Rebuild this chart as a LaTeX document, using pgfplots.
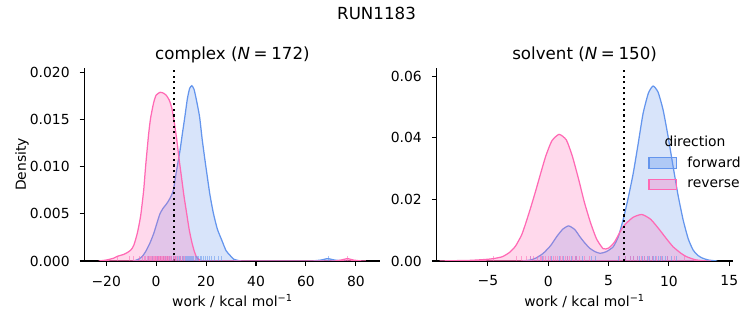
\documentclass[border=0pt]{standalone}
\usepackage{pgfplots}
\usepackage{pgfplotstable}
\pgfplotsset{compat=1.18}
\usepackage{fontspec}
\setmainfont{DejaVu Sans}
\definecolor{fwd}{HTML}{6495ED}
\definecolor{rev}{HTML}{FF69B4}

% ---------- KDE curves ----------
\pgfplotstableread{
x y
-23 0
-20 0.0001
-17 0.0003
-15.5 0.0005
-13 0.0007
-11.5 0.0009
-10 0.0012
-8.9 0.0017
-7.5 0.0030
-6.2 0.0048
-5 0.0075
-4.2 0.0101
-3 0.0135
-2.2 0.0152
-1 0.0168
0 0.0176
1.6 0.0179
3 0.0178
4 0.0176
5.2 0.0171
6.3 0.0162
7.2 0.0148
8.2 0.0130
9.2 0.0108
10.2 0.0088
11.2 0.0068
12.2 0.0051
13.2 0.0034
14.2 0.0021
15.2 0.0011
16.2 0.0004
17.5 0.0001
19 0
70 0
72 0.00002
74 0.0001
76.7 0.00025
79 0.0001
81.5 0.00002
84 0
}\cRev
\pgfplotstableread{
x y
-9 0
-7 0.0002
-5.5 0.0005
-4 0.0011
-2.5 0.0019
-1 0.0029
0.3 0.0040
1.5 0.0050
2.8 0.0056
4 0.0060
5 0.0064
6 0.0069
6.9 0.0075
7.8 0.0090
8.7 0.0104
9.6 0.0118
10.5 0.0135
11.5 0.0153
12.5 0.0172
13.4 0.0183
14.3 0.0186
15.2 0.0182
16.2 0.0170
17.4 0.0153
18.4 0.0130
19.4 0.0110
20.3 0.0093
21.5 0.0071
22.9 0.0051
24.5 0.0034
26.3 0.0022
28 0.0011
29.6 0.0006
31 0.0002
33 0.00005
36 0
61 0
63.5 0.00003
66 0.0001
68.7 0.00025
71.5 0.0001
74 0.00003
76 0
}\cFwd
\pgfplotstableread{
x y
-9 0
-7.9 0.0001
-6.5 0.0002
-5.2 0.0005
-4.5 0.0008
-3.8 0.0014
-3.2 0.0028
-2.7 0.0049
-2.2 0.0085
-1.85 0.0124
-1.4 0.0180
-1.0 0.0233
-0.6 0.0288
-0.2 0.0341
0.3 0.0390
0.9 0.0411
1.5 0.0393
2.0 0.0340
2.5 0.0268
3.0 0.0190
3.5 0.0125
4.0 0.0072
4.55 0.0040
5.0 0.0042
5.5 0.0062
6.2 0.0111
7.0 0.0141
7.75 0.0151
8.5 0.0135
9.25 0.0100
9.8 0.0072
10.35 0.0046
11.0 0.0025
11.46 0.0014
12.2 0.0004
13 0.00005
13.5 0
}\sRev
\pgfplotstableread{
x y
-2.2 0
-1.5 0.0003
-1.0 0.0010
-0.41 0.0025
0.2 0.0050
0.7 0.0079
1.2 0.0103
1.69 0.0114
2.2 0.0102
2.62 0.0079
3.0 0.0060
3.45 0.0041
3.9 0.0030
4.3 0.0025
4.8 0.0030
5.38 0.0046
5.8 0.0078
6.2 0.0133
6.6 0.0200
7.04 0.0284
7.45 0.0380
7.86 0.0479
8.3 0.0545
8.69 0.0568
9.1 0.0548
9.52 0.0490
9.95 0.0400
10.35 0.0306
10.75 0.0215
11.18 0.0133
11.6 0.0072
12.0 0.0036
12.4 0.0018
12.8 0.0009
13.3 0.0003
14 0
}\sFwd

% ---------- rug positions (x) and rug base (y = 0) ----------
\pgfplotstableread{
x y
-15.3 0
-10.7 0
-9.1 0
-6.7 0
-5.4 0
-4.8 0
-4.1 0
-3.6 0
-3.0 0
-2.7 0
-2.2 0
-1.9 0
-1.5 0
-1.1 0
-0.8 0
-0.4 0
-0.1 0
0.2 0
0.5 0
0.8 0
1.0 0
1.3 0
1.6 0
1.9 0
2.1 0
2.4 0
2.8 0
3.1 0
3.4 0
3.7 0
4.0 0
4.4 0
4.7 0
5.1 0
5.5 0
5.9 0
6.3 0
6.8 0
7.2 0
7.7 0
8.3 0
8.9 0
9.6 0
10.4 0
11.5 0
76.7 0
}\rugCRev
\pgfplotstableread{
x y
-3.2 0
-1.5 0
0.4 0
1.8 0
2.9 0
3.6 0
4.5 0
5.3 0
6.1 0
7.0 0
7.8 0
8.6 0
9.3 0
9.9 0
10.5 0
11.0 0
11.6 0
12.1 0
12.5 0
13.0 0
13.4 0
13.9 0
14.3 0
14.7 0
15.1 0
15.6 0
16.0 0
16.5 0
17.0 0
17.6 0
18.2 0
18.9 0
19.6 0
20.4 0
21.3 0
22.3 0
23.5 0
24.8 0
26.3 0
68.9 0
}\rugCFwd
\pgfplotstableread{
x y
-4.5 0
-2.6 0
-2.2 0
-1.8 0
-1.5 0
-1.2 0
-0.9 0
-0.6 0
-0.4 0
-0.2 0
0.0 0
0.2 0
0.4 0
0.6 0
0.8 0
1.0 0
1.2 0
1.4 0
1.6 0
1.8 0
2.0 0
2.3 0
2.6 0
3.0 0
3.4 0
5.9 0
6.4 0
6.8 0
7.1 0
7.4 0
7.7 0
8.0 0
8.3 0
8.6 0
9.0 0
9.4 0
9.9 0
10.5 0
11.3 0
}\rugSRev
\pgfplotstableread{
x y
-1.5 0
-0.5 0
0.3 0
0.9 0
1.3 0
1.6 0
1.9 0
2.3 0
2.8 0
3.6 0
3.9 0
5.8 0
6.4 0
6.8 0
7.1 0
7.4 0
7.6 0
7.8 0
8.0 0
8.2 0
8.4 0
8.6 0
8.7 0
8.9 0
9.1 0
9.3 0
9.5 0
9.7 0
9.9 0
10.2 0
10.6 0
}\rugSFwd

\pgfplotsset{
  panel/.style={
    scale only axis, width=213bp, height=139.3bp,
    axis x line*=bottom, axis y line*=left,
    axis line style={line width=0.8bp, black},
    tick align=outside, major tick length=3.5bp,
    every tick/.style={line width=0.8bp, black},
    scaled y ticks=false, scaled x ticks=false,
    every tick label/.append style={font=\fontsize{10bp}{12bp}\selectfont, inner sep=0pt},
    xticklabel style={anchor=north, yshift=-7bp},
    yticklabel style={anchor=east, xshift=-7bp},
    title style={at={(0.5,1)}, anchor=base, yshift=-0.4bp, font=\fontsize{12bp}{14bp}\selectfont},
    xlabel style={at={(0.5,0)}, anchor=base, yshift=-32.6bp, font=\fontsize{10bp}{12bp}\selectfont},
    legend image code/.code={\draw[#1, line width=0.8bp] (0bp,-3.8bp) rectangle (19.7bp,3.8bp);},
  },
  kdef/.style={draw=#1, fill=#1, fill opacity=0.25, line width=0.9bp, smooth, tension=0.35, forget plot},
  rug/.style={only marks, mark=|, mark size=1.75bp, color=#1, forget plot,
    mark options={line width=0.75bp, opacity=0.55, yshift=1.75bp}},
}

\begin{document}
\begin{tikzpicture}
\path[use as bounding box] (0,0) rectangle (542.16bp,234bp);

\node[anchor=base, font=\fontsize{12bp}{14bp}\selectfont] at (271.1bp,220.3bp) {RUN1183};
\node[rotate=90, anchor=center, font=\fontsize{10bp}{12bp}\selectfont] at (15.8bp,115.7bp) {Density};

% ---------------- complex ----------------
\begin{axis}[panel, at={(60.84bp,46.08bp)}, anchor=south west,
  xmin=-28.7, xmax=89.8, ymin=0, ymax=0.02053,
  xtick={-20,0,20,40,60,80}, xticklabels={−20,0,20,40,60,80},
  ytick={0,0.005,0.01,0.015,0.02}, yticklabels={0.000,0.005,0.010,0.015,0.020},
  title={complex (\textit{N}\hspace{0.22em}=\hspace{0.22em}172)},
  xlabel={work / kcal mol\textsuperscript{−1}}]
\addplot[kdef=fwd] table[x=x,y=y] {\cFwd} \closedcycle;
\addplot[kdef=rev] table[x=x,y=y] {\cRev} \closedcycle;
\addplot[rug=fwd] table[x=x, y=y] {\rugCFwd};
\addplot[rug=rev] table[x=x, y=y] {\rugCRev};
\addplot[black, line width=1.5bp, dash pattern=on 1.5bp off 2.5bp, forget plot] coordinates {(7.18,0) (7.18,0.0206)};
\end{axis}

% ---------------- solvent ----------------
\begin{axis}[panel, at={(314.42bp,46.08bp)}, anchor=south west,
  xmin=-9.24, xmax=15.27, ymin=0, ymax=0.0628,
  xtick={-5,0,5,10,15}, xticklabels={−5,0,5,10,15},
  ytick={0,0.02,0.04,0.06}, yticklabels={0.00,0.02,0.04,0.06},
  title={solvent (\textit{N}\hspace{0.22em}=\hspace{0.22em}150)},
  xlabel={work / kcal mol\textsuperscript{−1}},
  legend style={draw=none, fill=none, at={(0.715,0.555)}, anchor=north west,
    font=\fontsize{10bp}{12bp}\selectfont, row sep=3.3bp, column sep=5.5bp, inner sep=0pt,
    cells={anchor=west}},
  legend cell align=left]
\addplot[kdef=fwd] table[x=x,y=y] {\sFwd} \closedcycle;
\addplot[kdef=rev] table[x=x,y=y] {\sRev} \closedcycle;
\addplot[rug=fwd] table[x=x, y=y] {\rugSFwd};
\addplot[rug=rev] table[x=x, y=y] {\rugSRev};
\addplot[black, line width=1.5bp, dash pattern=on 1.5bp off 2.5bp, forget plot] coordinates {(6.27,0) (6.27,0.0630)};
\addlegendimage{draw=fwd, fill=fwd, fill opacity=0.35}
\addlegendentry{forward}
\addlegendimage{draw=rev, fill=rev, fill opacity=0.3}
\addlegendentry{reverse}
\node[anchor=base, font=\fontsize{10bp}{12bp}\selectfont] at (rel axis cs:0.873,0.594) {direction};
\end{axis}
\end{tikzpicture}
\end{document}
